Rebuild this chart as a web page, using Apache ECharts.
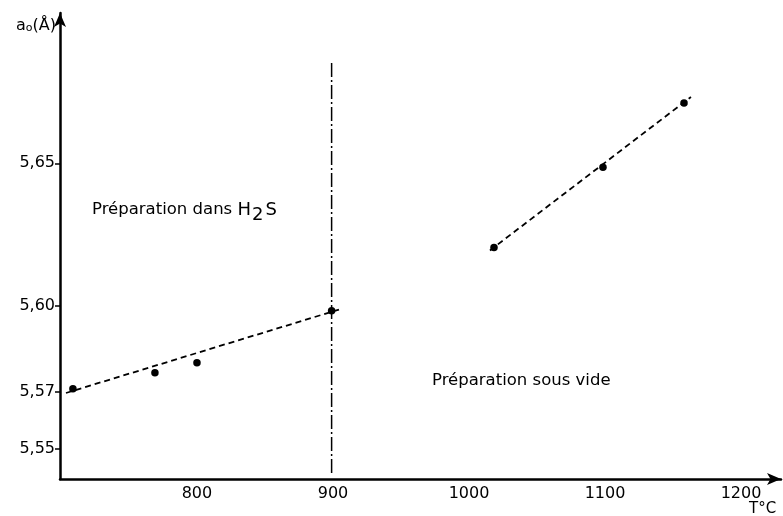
<!DOCTYPE html>
<html><head><meta charset="utf-8">
<script src="https://cdn.jsdelivr.net/npm/echarts@6/dist/echarts.min.js"></script>
<style>html,body{margin:0;padding:0;background:#fff}#c{width:783px;height:516px}</style>
</head><body><div id="c"></div>
<script>
// Data
const xTicks = [800, 900, 1000, 1100, 1200];
const yTicks = [5.55, 5.57, 5.60, 5.65];
const h2sPoints = [[708.8, 5.5711], [769.1, 5.5767], [800, 5.5802], [899, 5.5984]];
const vacuumPoints = [[1018.4, 5.6205], [1098.5, 5.6486], [1158.1, 5.6711]];
const h2sFit = [[703.7, 5.5696], [904.4, 5.5988]];
const vacuumFit = [[1015.4, 5.6195], [1163.2, 5.6732]];
const separator = [[899, 5.5416], [899, 5.6854]];

const FONT = 'DejaVu Sans';
const INK = '#000';
const chart = echarts.init(document.getElementById('c'));
chart.setOption({
  animation: false,
  backgroundColor: '#fff',
  grid: {left: 60, right: 2, top: 13, bottom: 37},
  xAxis: {
    type: 'value', min: 699.3, max: 1229.4,
    splitLine: {show: false},
    axisLine: {lineStyle: {color: INK, width: 2.5}, symbol: ['none', 'arrow'], symbolSize: [9, 14]},
    axisTick: {show: false},
    axisLabel: {customValues: xTicks, color: INK, fontFamily: FONT, fontSize: 16, margin: 7,
      formatter: v => String(v)},
  },
  yAxis: {
    type: 'value', min: 5.5395, max: 5.7026,
    splitLine: {show: false},
    axisLine: {lineStyle: {color: INK, width: 2.5}, symbol: ['none', 'arrow'], symbolSize: [9, 14]},
    axisTick: {customValues: yTicks, length: 5, lineStyle: {color: INK, width: 1.5}},
    axisLabel: {customValues: yTicks, color: INK, fontFamily: FONT, fontSize: 16, margin: 5,
      formatter: v => v.toFixed(2).replace('.', ',')},
  },
  series: [
    {type: 'line', data: separator, symbol: 'none', silent: true,
      lineStyle: {color: INK, width: 1.5, type: [14, 3, 2, 3]}},
    {type: 'line', data: h2sFit, symbol: 'none', silent: true,
      lineStyle: {color: INK, width: 1.8, type: [6, 4]}},
    {type: 'line', data: vacuumFit, symbol: 'none', silent: true,
      lineStyle: {color: INK, width: 1.8, type: [6, 4]}},
    {type: 'scatter', data: h2sPoints, symbol: 'circle', symbolSize: 7.5, itemStyle: {color: INK, opacity: 1}},
    {type: 'scatter', data: vacuumPoints, symbol: 'circle', symbolSize: 7.5, itemStyle: {color: INK, opacity: 1}},
  ],
  graphic: [
    {type: 'text', x: 56, y: 17, style: {
      align: 'right',
      text: '{a|a}{s|o}{a|(Å)}', rich: {
        a: {fontFamily: FONT, fontSize: 16, fill: INK},
        s: {fontFamily: FONT, fontSize: 11, fill: INK, padding: [6, 0, 0, 0]}
      }}},
    {type: 'text', left: 92, top: 201, style: {
      text: '{a|Préparation dans }{h|H}{s|2}{h|S}', rich: {
        a: {fontFamily: FONT, fontSize: 16.5, fill: INK},
        h: {fontFamily: FONT, fontSize: 18, fill: INK},
        s: {fontFamily: FONT, fontSize: 18, fill: INK, padding: [10, 2, 0, 1]}
      }}},
    {type: 'text', left: 432, top: 372, style: {
      text: 'Préparation sous vide', fontFamily: FONT, fontSize: 16.5, fill: INK}},
    {type: 'text', left: 749, top: 502, style: {
      text: 'T°C', fontFamily: FONT, fontSize: 15, fill: INK}},
  ]
});
</script></body></html>
